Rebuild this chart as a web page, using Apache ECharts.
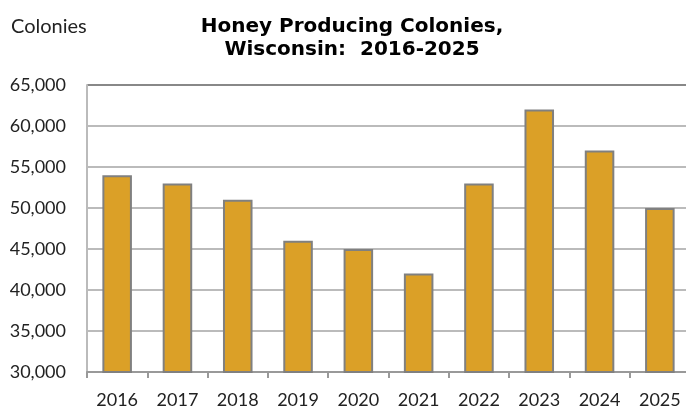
<!DOCTYPE html>
<html>
<head>
<meta charset="utf-8">
<script src="https://cdn.jsdelivr.net/npm/echarts@6/dist/echarts.min.js"></script>
<style>
  html, body { margin: 0; padding: 0; background: #fff; }
  #chart { width: 686px; height: 408px; }
</style>
</head>
<body>
<div id="chart"></div>
<script>
  // 数据
  const years = ['2016', '2017', '2018', '2019', '2020', '2021', '2022', '2023', '2024', '2025']
  const colonies = [54000, 53000, 51000, 46000, 45000, 42000, 53000, 62000, 57000, 50000]

  const chart = echarts.init(document.getElementById('chart'))

  const labelFont = 'Lato, "Open Sans", sans-serif'

  const option = {
    animation: false,
    title: [
      {
        text: 'Honey Producing Colonies,\nWisconsin:  2016-2025',
        left: 347,
        top: 10,
        textAlign: 'center',
        textStyle: {
          fontFamily: '"DejaVu Sans", Arial, sans-serif',
          fontWeight: 'bold',
          fontSize: 20,
          lineHeight: 23.5,
          color: '#000',
        },
      },
      {
        text: 'Colonies',
        left: 6,
        top: 12,
        textStyle: {
          fontFamily: labelFont,
          fontWeight: 'normal',
          fontSize: 20,
          color: '#222',
        },
      },
    ],
    grid: {
      left: 87,
      right: -4,
      top: 85,
      bottom: 36,
      containLabel: false,
      outerBoundsMode: 'none', // 不让标签挤压绘图区
    },
    xAxis: {
      type: 'category',
      data: years,
      axisLine: { lineStyle: { color: '#999', width: 2 } },
      axisTick: { show: true, length: 6, lineStyle: { color: '#999', width: 2 } },
      axisLabel: {
        margin: 19,
        fontFamily: labelFont,
        fontSize: 18,
        color: '#222',
      },
    },
    yAxis: {
      type: 'value',
      min: 30000,
      max: 65000,
      interval: 5000,
      axisLine: { show: true, lineStyle: { color: '#bbb', width: 2 } },
      axisTick: { show: false },
      axisLabel: {
        margin: 21,
        fontFamily: labelFont,
        fontSize: 18,
        color: '#222',
        formatter: (v) => v.toLocaleString('en-US'),
      },
      splitLine: {
        show: true,
        lineStyle: {
          // 顶部网格线颜色更深
          color: ['#bbb', '#bbb', '#bbb', '#bbb', '#bbb', '#bbb', '#bbb', '#888'],
          width: 2,
        },
      },
    },
    series: [
      {
        type: 'bar',
        data: colonies,
        barWidth: '49%',
        itemStyle: {
          color: '#DBA027',
          borderColor: '#808080',
          borderWidth: 2,
        },
      },
    ],
  }

  chart.setOption(option)
</script>
</body>
</html>
